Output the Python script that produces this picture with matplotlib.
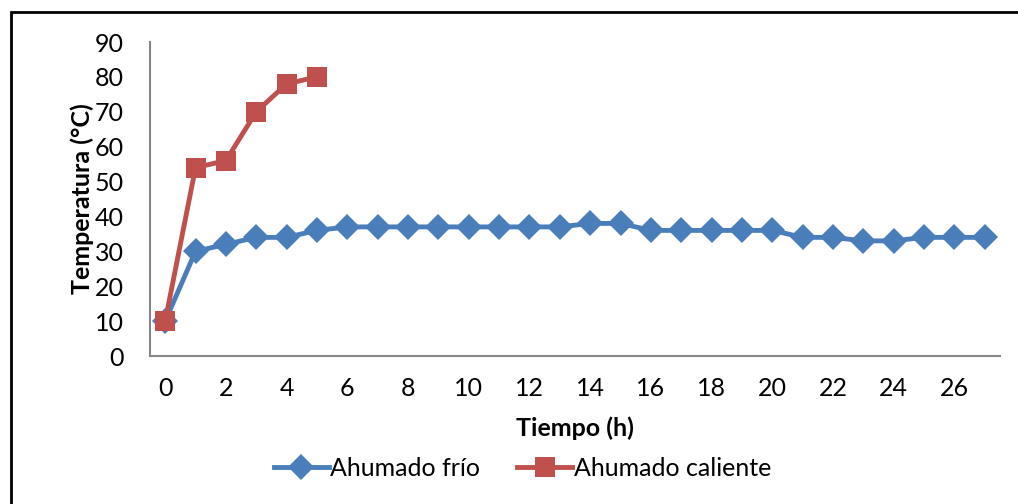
import matplotlib
matplotlib.use('Agg')
import matplotlib.pyplot as plt
from matplotlib.patches import Rectangle

plt.rcParams['font.family'] = ['Lato', 'DejaVu Sans']

# horas de ahumado
hours_frio = list(range(28))
temp_frio = [10, 30, 32, 34, 34, 36, 37, 37, 37, 37, 37, 37, 37, 37,
             38, 38, 36, 36, 36, 36, 36, 34, 34, 33, 33, 34, 34, 34]
hours_caliente = [0, 1, 2, 3, 4, 5]
temp_caliente = [10, 54, 56, 70, 78, 80]

x_ticks = list(range(0, 27, 2))
y_ticks = list(range(0, 91, 10))

BLUE = '#4A7EBB'
RED = '#C0504D'
GREY = '#868686'

fig = plt.figure(figsize=(10.18, 5.04), dpi=100)
ax = fig.add_axes([150 / 1018, 1 - 356 / 504, 850 / 1018, 314 / 504])

ax.plot(hours_frio, temp_frio, color=BLUE, lw=3.5, marker='D', ms=13,
        markeredgewidth=0, label='Ahumado frío', zorder=3)
ax.plot(hours_caliente, temp_caliente, color=RED, lw=3.5, marker='s', ms=15,
        markeredgewidth=0, label='Ahumado caliente', zorder=4)

ax.set_xlim(-0.5, 27.5)
ax.set_ylim(0, 90)
ax.set_xticks(x_ticks)
ax.set_yticks(y_ticks)
ax.tick_params(length=0, labelsize=18, pad=15)
ax.tick_params(axis='y', pad=19)

for side in ['top', 'right']:
    ax.spines[side].set_visible(False)
for side in ['left', 'bottom']:
    ax.spines[side].set_color(GREY)
    ax.spines[side].set_linewidth(1.5)

ax.set_xlabel('Tiempo (h)', fontsize=18, fontweight='bold', labelpad=12)
ax.set_ylabel('Temperatura (°C)', fontsize=18, fontweight='bold', labelpad=0)

ax.legend(loc='upper center', bbox_to_anchor=(0.438, -0.25), ncol=2,
          frameon=False, fontsize=18, handlelength=2.2, handletextpad=0.05,
          columnspacing=1.5)

# marco exterior del gráfico
fig.patches.append(Rectangle((10.5 / 1018, -0.1), 1.2, 1.1 - 12 / 504,
                             transform=fig.transFigure, fill=False,
                             edgecolor='black', lw=2))

fig.savefig('out.png', dpi=100)
